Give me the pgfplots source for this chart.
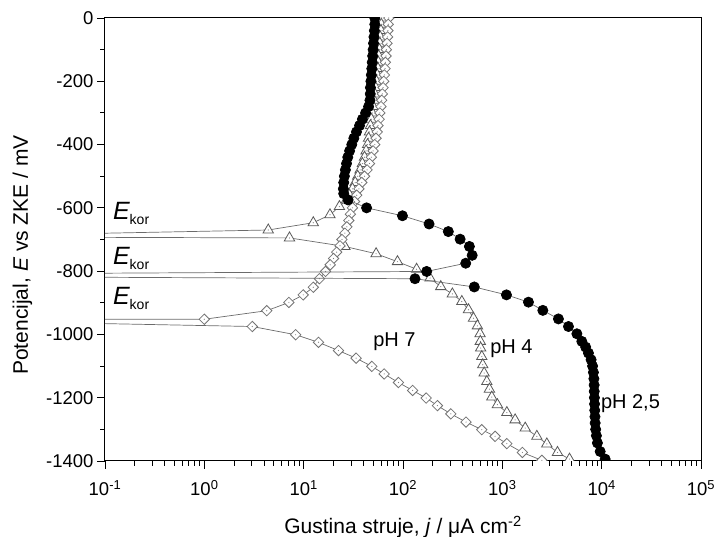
\documentclass[border=0pt]{standalone}
\usepackage{pgfplots}
\pgfplotsset{compat=1.18}
\usepackage{fontspec}
\setmainfont{Liberation Sans}

\definecolor{lnc}{gray}{0.42}
\definecolor{trc}{gray}{0.35}
\definecolor{dic}{gray}{0.45}

% open marks with a small dot in the middle
\pgfdeclareplotmark{tridot}{%
  \pgfpathmoveto{\pgfqpoint{0pt}{\pgfplotmarksize}}%
  \pgfpathlineto{\pgfqpoint{-0.866\pgfplotmarksize}{-0.5\pgfplotmarksize}}%
  \pgfpathlineto{\pgfqpoint{0.866\pgfplotmarksize}{-0.5\pgfplotmarksize}}%
  \pgfpathclose\pgfusepathqfillstroke
  \pgfscope\pgfsetfillcolor{gray}%
  \pgfpathcircle{\pgfpointorigin}{0.6pt}\pgfusepathqfill\endpgfscope}
\pgfdeclareplotmark{diadot}{%
  \pgfpathmoveto{\pgfqpoint{0pt}{\pgfplotmarksize}}%
  \pgfpathlineto{\pgfqpoint{\pgfplotmarksize}{0pt}}%
  \pgfpathlineto{\pgfqpoint{0pt}{-\pgfplotmarksize}}%
  \pgfpathlineto{\pgfqpoint{-\pgfplotmarksize}{0pt}}%
  \pgfpathclose\pgfusepathqfillstroke
  \pgfscope\pgfsetfillcolor{gray}%
  \pgfpathcircle{\pgfpointorigin}{0.6pt}\pgfusepathqfill\endpgfscope}

\newcommand{\ekor}{{\fontsize{25}{25}\selectfont\itshape E}\raisebox{-5pt}{\fontsize{14}{14}\selectfont kor}}

\begin{document}
\begin{tikzpicture}
\begin{axis}[
  width=596pt, height=443pt, scale only axis,
  xmode=log, xmin=0.1, xmax=1e5, ymin=-1400, ymax=0,
  xtick={0.1,1,10,100,1000,10000,100000},
  xticklabels={10\textsuperscript{-1},10\textsuperscript{0},10\textsuperscript{1},10\textsuperscript{2},10\textsuperscript{3},10\textsuperscript{4},10\textsuperscript{5}},
  ytick={-1400,-1200,-1000,-800,-600,-400,-200,0},
  yticklabels={-1400,-1200,-1000,-800,-600,-400,-200,0},
  minor ytick={-1300,-1100,-900,-700,-500,-300,-100},
  tick align=outside, tick pos=left,
  major tick length=8pt, minor tick length=5pt,
  tick style={black, line width=0.9pt},
  axis line style={line width=1pt},
  ticklabel style={font=\fontsize{18.5}{18.5}\selectfont},
  xticklabel style={yshift=-8pt},
  clip marker paths=true,
]
% pH 4
\addplot[lnc, line width=0.7pt, mark=tridot, mark size=6pt, mark options={draw=trc, fill=white, line width=0.8pt}] coordinates {
(61,0) (60.5,-20) (60,-40) (59,-60) (58.5,-80) (58,-100) (57,-120) (56.5,-140)
(56,-160) (55,-180) (54,-200) (53,-220) (52,-240) (51,-260) (50,-280) (49,-300)
(48,-320) (47,-340) (46,-360) (45,-380) (44,-400) (42.5,-420) (41,-440) (39,-460)
(37,-480) (35,-500) (33,-520) (31,-540) (29,-560) (27,-575) (22.9,-596) (18.4,-622)
(12.5,-647) (4.4,-670) (0.05,-682) (0.05,-693) (7.2,-695) (26,-722) (53.6,-745)
(88,-770) (137,-794) (187,-822) (240,-849) (314,-872) (391,-896) (456,-922)
(512,-949) (561,-973) (597,-998) (600,-1022) (605,-1043) (621,-1070) (635,-1096)
(656,-1122) (698,-1149) (741,-1173) (783,-1198) (892,-1222) (1110,-1247)
(1345,-1270) (1700,-1296) (2225,-1322) (2805,-1346) (3590,-1373) (4745,-1394)
};
% pH 7
\addplot[lnc, line width=0.7pt, mark=diadot, mark size=5.2pt, mark options={draw=dic, fill=white, line width=0.8pt}] coordinates {
(72,0) (71,-20) (70.5,-40) (70,-60) (69,-80) (68,-100) (67.5,-120) (66.5,-140)
(66,-160) (65,-180) (64,-200) (63,-220) (62,-240) (61,-260) (60,-280) (58.5,-300)
(57.5,-320) (56,-340) (55,-360) (53.5,-380) (52,-400) (50,-420) (48,-440) (46,-460)
(43.5,-480) (41,-500) (38.5,-520) (36,-540) (34.2,-560) (32.5,-580) (31,-600)
(29.5,-620) (28.5,-640) (27.2,-660) (26,-680) (24.3,-700) (23.2,-720) (21.5,-740)
(20,-760) (18.5,-780) (16.6,-801) (14.4,-824) (12.5,-851) (9.9,-875) (7.1,-899)
(4.25,-925) (1.0,-952) (0.05,-952) (0.05,-964) (3.04,-975) (8.3,-1001) (14.1,-1025)
(22.4,-1051) (33.7,-1075) (48.5,-1101) (64.6,-1125) (90,-1152) (125,-1177)
(171,-1201) (222,-1225) (303,-1251) (431,-1277) (621,-1301) (845,-1322)
(1109,-1345) (1592,-1373) (2500,-1398)
};
% pH 2,5
\addplot[lnc, line width=0.7pt, mark=*, mark size=5.1pt, mark options={draw=black, fill=black}] coordinates {
(52,0) (52,-20) (51.5,-40) (51,-60) (50.5,-80) (50,-100) (49.5,-120) (49,-140)
(48.5,-160) (48,-180) (47.5,-200) (47,-220) (46.8,-240) (46.5,-260) (45,-280)
(42,-300) (39,-320) (36.5,-340) (34,-360) (32,-380) (30.5,-400) (29,-420)
(27.8,-440) (27,-460) (26.3,-480) (25.7,-500) (25.3,-520) (25.1,-540) (25.3,-555)
(28,-575) (43,-600) (98.7,-625) (183,-651) (286,-675) (376,-699) (466,-722)
(497,-750) (428,-775) (173,-801) (0.05,-807) (0.05,-819) (132,-824) (522,-850)
(1100,-875) (1833,-898) (2557,-924) (3670,-951) (4633,-975) (5630,-998)
(6314,-1022) (6900,-1040) (7360,-1059) (7830,-1080) (8100,-1100) (8260,-1120)
(8350,-1140) (8400,-1160) (8420,-1180) (8450,-1200) (8480,-1220) (8520,-1240)
(8560,-1260) (8600,-1280) (8700,-1300) (8850,-1320) (9060,-1343) (9660,-1370)
(10840,-1394)
};
\node[anchor=base west, inner sep=0pt] at (axis cs:0.12,-638) {\ekor};
\node[anchor=base west, inner sep=0pt] at (axis cs:0.12,-780) {\ekor};
\node[anchor=base west, inner sep=0pt] at (axis cs:0.12,-906) {\ekor};
\node[anchor=base west, inner sep=0pt, font=\fontsize{20}{20}\selectfont] at (axis cs:50,-1038) {pH 7};
\node[anchor=base west, inner sep=0pt, font=\fontsize{20}{20}\selectfont] at (axis cs:753,-1059) {pH 4};
\node[anchor=base west, inner sep=0pt, font=\fontsize{20}{20}\selectfont] at (axis cs:9800,-1235) {pH 2,5};
\end{axis}
\node[anchor=base, inner sep=0pt, font=\fontsize{21}{21}\selectfont] at ([shift={(298pt,-73pt)}]current axis.south west) {Gustina struje, \textit{j} / μA cm\textsuperscript{-2}};
\node[anchor=base, rotate=90, inner sep=0pt, font=\fontsize{21}{21}\selectfont] at ([shift={(-77pt,206pt)}]current axis.south west) {Potencijal, \textit{E} vs ZKE / mV};
\pgfresetboundingbox
\path[use as bounding box] ([shift={(-105pt,-76pt)}]current axis.south west) rectangle ([shift={(609pt,461pt)}]current axis.south west);
\end{tikzpicture}
\end{document}
